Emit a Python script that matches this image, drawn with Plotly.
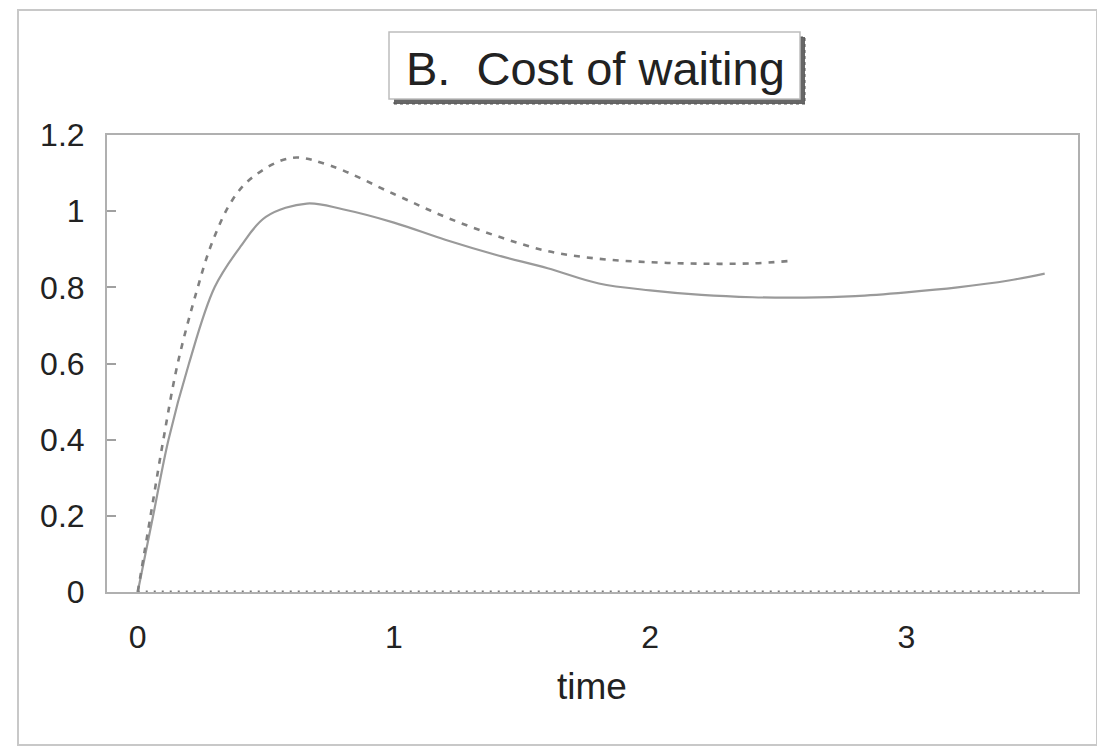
import plotly.graph_objects as go

# Solid curve
solid_x = [0, 0.06, 0.12, 0.2, 0.3, 0.4, 0.5, 0.66, 0.8, 1.0, 1.2, 1.4, 1.6, 1.8,
           2.0, 2.2, 2.4, 2.6, 2.8, 3.0, 3.2, 3.4, 3.54]
solid_y = [0, 0.2, 0.4, 0.6, 0.8, 0.906, 0.985, 1.02, 1.005, 0.97, 0.925, 0.885, 0.85, 0.81,
           0.792, 0.78, 0.774, 0.773, 0.777, 0.787, 0.800, 0.818, 0.836]

# Dashed curve
dashed_x = [0, 0.05, 0.1, 0.156, 0.23, 0.29, 0.37, 0.45, 0.6, 0.75, 1.0, 1.2, 1.4, 1.6,
            1.8, 2.0, 2.2, 2.4, 2.54]
dashed_y = [0, 0.2, 0.4, 0.6, 0.79, 0.917, 1.03, 1.09, 1.14, 1.12, 1.045, 0.985, 0.935, 0.895,
            0.875, 0.866, 0.862, 0.863, 0.869]

# Dotted zero line
zero_x = [0, 3.55]
zero_y = [0, 0]

x_ticks = [0, 1, 2, 3]
y_ticks = [0, 0.2, 0.4, 0.6, 0.8, 1, 1.2]
y_tick_labels = ["0", "0.2", "0.4", "0.6", "0.8", "1", "1.2"]

title_text = "B.  Cost of waiting"
x_label = "time"

fig = go.Figure()
fig.add_trace(go.Scatter(x=zero_x, y=zero_y, mode="lines",
                         line=dict(color="#7a7a7a", width=3, dash="2px,6px"), showlegend=False))
fig.add_trace(go.Scatter(x=solid_x, y=solid_y, mode="lines", line_shape="spline",
                         line=dict(color="#9a9a9a", width=2.2), showlegend=False))
fig.add_trace(go.Scatter(x=dashed_x, y=dashed_y, mode="lines", line_shape="spline",
                         line=dict(color="#808080", width=2.6, dash="6px,7px"), showlegend=False))

OFF = 8  # page body margin offset
W, H = 1105 - OFF, 749 - OFF
L, R, T, B = 107 - OFF, 27, 135 - OFF, 157
pw, ph = W - L - R, H - T - B

def px(xp):
    return (xp - OFF - L) / pw

def py(yp):
    return (H - B - (yp - OFF)) / ph

font_family = "Liberation Sans, Arial, sans-serif"

fig.update_layout(
    width=W, height=H,
    margin=dict(l=L, r=R, t=T, b=B),
    paper_bgcolor="white", plot_bgcolor="white",
    font=dict(family=font_family, color="#222222"),
    xaxis=dict(range=[-0.12, 3.67], tickvals=x_ticks, ticks="", showgrid=False, zeroline=False,
               showline=True, linecolor="#b0b0b0", linewidth=2, mirror=True,
               tickfont=dict(size=32, color="#222222"), ticklabelstandoff=16),
    yaxis=dict(range=[0, 1.2], tickvals=y_ticks, ticktext=y_tick_labels, ticks="inside",
               ticklen=9, tickcolor="#a0a0a0", tickwidth=2, showgrid=False, zeroline=False,
               showline=True, linecolor="#b0b0b0", linewidth=2, mirror=True,
               tickfont=dict(size=32, color="#222222"), ticklabelstandoff=14),
    shapes=[
        # outer frame
        dict(type="rect", xref="paper", yref="paper", x0=px(18), x1=px(1097), y0=py(745), y1=py(10),
             line=dict(color="#c8c8c8", width=2), layer="below"),
        # title box shadow
        dict(type="rect", xref="paper", yref="paper", x0=px(394), x1=px(805), y0=py(104), y1=py(37),
             line=dict(color="#555555", width=1, dash="dot"), fillcolor="#666666"),
        # title box
        dict(type="rect", xref="paper", yref="paper", x0=px(389), x1=px(800), y0=py(99), y1=py(32),
             line=dict(color="#bdbdbd", width=1.5), fillcolor="white"),
    ],
    annotations=[
        dict(text=title_text, xref="paper", yref="paper", x=px(595), y=py(68), showarrow=False,
             xanchor="center", yanchor="middle", font=dict(size=47, color="#222222", family=font_family)),
        dict(text=x_label, xref="paper", yref="paper", x=px(592), y=py(686), showarrow=False,
             xanchor="center", yanchor="middle", font=dict(size=37, color="#222222", family=font_family)),
    ],
)

fig.write_html("out.html")
